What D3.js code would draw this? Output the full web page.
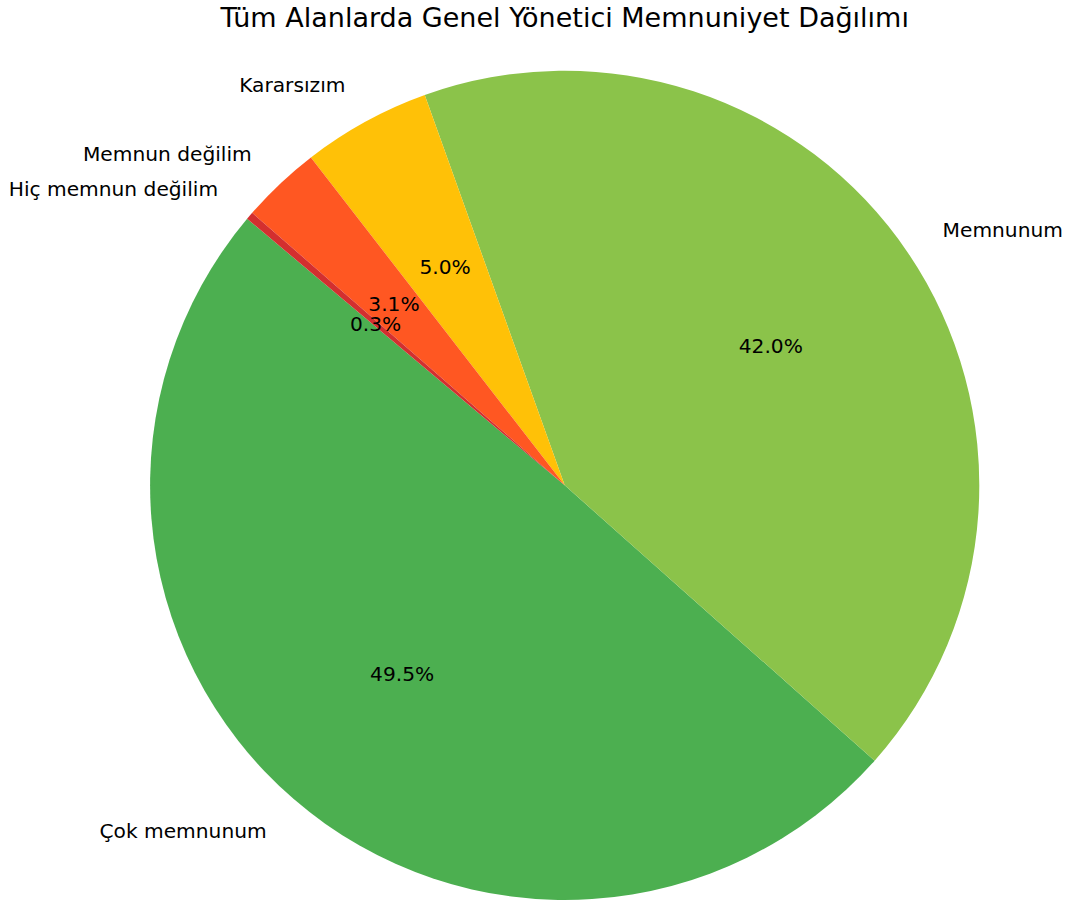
<!DOCTYPE html>
<html>
<head>
<meta charset="utf-8">
<script src="https://cdn.jsdelivr.net/npm/d3@7"></script>
<style>
    html, body { margin: 0; padding: 0; background: #fff; }
    svg { display: block; }
</style>
</head>
<body>
<div id="chart"></div>
<script>
// Data
const categories = ["Çok memnunum", "Memnunum", "Kararsızım", "Memnun değilim", "Hiç memnun değilim"];
const shares = [49.5, 42.0, 5.0, 3.1, 0.3];
const sliceColors = ["#4CAF50", "#8BC34A", "#FFC107", "#FF5722", "#D32F2F"];
const chartTitle = "Tüm Alanlarda Genel Yönetici Memnuniyet Dağılımı";

const width = 1072;
const height = 903;
const cx = 564.7;
const cy = 485.3;
const radius = 414.6;
const labelSize = 20.2;

// matplotlib style: startangle 140deg, counter-clockwise
const startDeg = 140;
const toD3 = (deg) => ((90 - deg) * Math.PI) / 180;

const data = categories.map((name, i) => ({ name, value: shares[i], color: sliceColors[i] }));
const total = d3.sum(data, (d) => d.value);

const svg = d3
    .select("#chart")
    .append("svg")
    .attr("width", width)
    .attr("height", height)
    .attr("font-family", "'DejaVu Sans', sans-serif");

svg.append("text")
    .attr("x", cx)
    .attr("y", 27)
    .attr("text-anchor", "middle")
    .attr("font-size", 27)
    .attr("fill", "#000")
    .text(chartTitle);

const pie = d3
    .pie()
    .sort(null)
    .value((d) => d.value)
    .startAngle(toD3(startDeg))
    .endAngle(toD3(startDeg) - 2 * Math.PI);

const arcs = pie(data);
const arc = d3.arc().innerRadius(0).outerRadius(radius);

const g = svg.append("g").attr("transform", `translate(${cx},${cy})`);

g.selectAll("path")
    .data(arcs)
    .join("path")
    .attr("d", arc)
    .attr("fill", (d) => d.data.color);

const midAngle = (d) => (d.startAngle + d.endAngle) / 2;

// Category labels at 1.1 r
g.selectAll("text.label")
    .data(arcs)
    .join("text")
    .attr("class", "label")
    .attr("x", (d) => Math.sin(midAngle(d)) * radius * 1.1)
    .attr("y", (d) => -Math.cos(midAngle(d)) * radius * 1.1)
    .attr("dy", "0.35em")
    .attr("text-anchor", (d) => (Math.sin(midAngle(d)) > 0 ? "start" : "end"))
    .attr("font-size", labelSize)
    .attr("fill", "#000")
    .text((d) => d.data.name);

// Percentage labels at 0.6 r
g.selectAll("text.pct")
    .data(arcs)
    .join("text")
    .attr("class", "pct")
    .attr("x", (d) => Math.sin(midAngle(d)) * radius * 0.6)
    .attr("y", (d) => -Math.cos(midAngle(d)) * radius * 0.6)
    .attr("dy", "0.35em")
    .attr("text-anchor", "middle")
    .attr("font-size", labelSize)
    .attr("fill", "#000")
    .text((d) => `${((d.data.value / total) * 100).toFixed(1)}%`);
</script>
</body>
</html>
